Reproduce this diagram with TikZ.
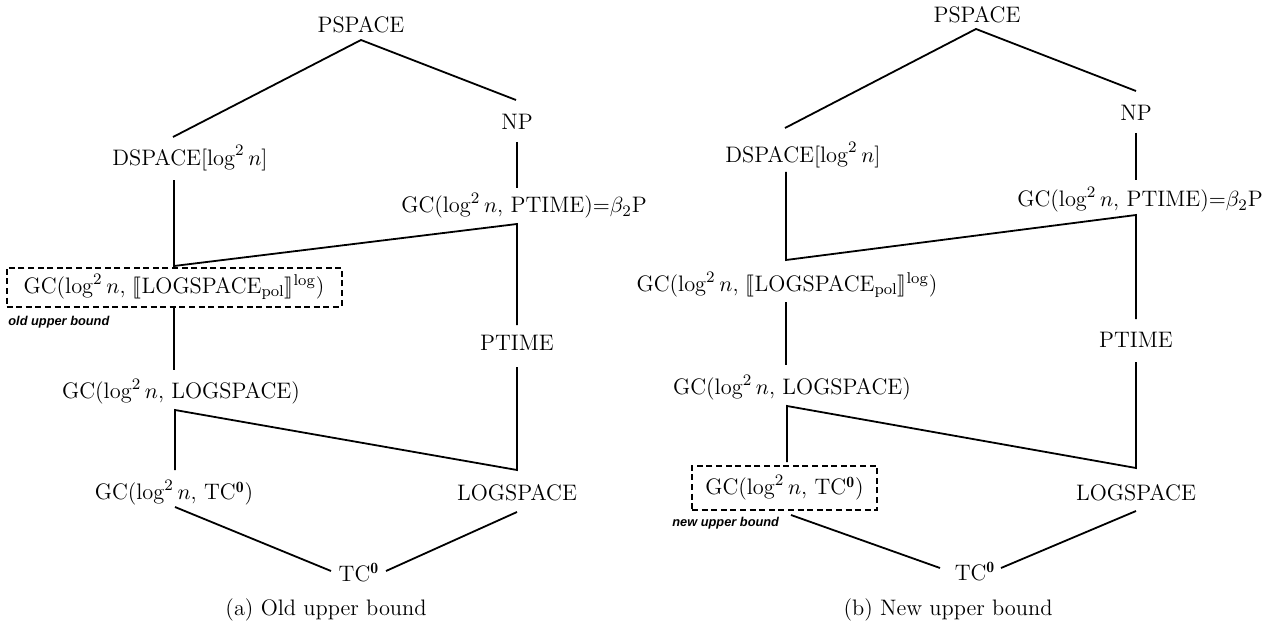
\documentclass[tikz,border=0pt]{standalone}
\usepackage{amsmath}
\usepackage{stmaryrd}
\usepackage{fontspec}
\newfontfamily\lblfont{Liberation Sans}
\begin{document}
\begin{tikzpicture}[x=0.5pt,y=-0.5pt,
  cls/.style={inner sep=0pt, font=\fontsize{11.2}{13}\selectfont},
  lbl/.style={inner sep=0pt, anchor=west, font=\lblfont\bfseries\itshape\fontsize{6.4}{8}\selectfont},
  edge/.style={line width=0.9pt},
  bound/.style={draw, line width=1pt, dash pattern=on 3pt off 1.8pt}]
\useasboundingbox (0,0) rectangle (1280,626);
% ---------- (a) ----------
\node[cls] (aPS) at (361,25) {PSPACE};
\node[cls] (aNP) at (517,122) {NP};
\node[cls] (aDS) at (190,158) {DSPACE$[\log^2 n]$};
\node[cls] (aGP) at (524,206) {GC($\log^2 n$, PTIME)${=}\beta_2$P};
\node[cls, bound, minimum width=167.5pt, minimum height=19.5pt] (aGL) at (174,287) {GC($\log^2 n$, $\llbracket$LOGSPACE$_{\mathrm{pol}}\rrbracket^{\log}$)};
\node[lbl] (aOB) at (8,322) {old upper bound};
\node[cls] (aPT) at (517,343) {PTIME};
\node[cls] (aGS) at (181,392) {GC($\log^2 n$, LOGSPACE)};
\node[cls] (aGT) at (174,493) {GC($\log^2 n$, TC$^{\mathbf{0}}$)};
\node[cls] (aLS) at (517,493) {LOGSPACE};
\node[cls] (aTC) at (359,573) {TC$^{\mathbf{0}}$};
\node[cls] (aCap) at (326,610) {(a) Old upper bound};
\coordinate (aPSb) at (361,40);
\coordinate (aDSt) at (173,137);
\coordinate (aNPt) at (516,100);
\coordinate (aNPb) at (517,142);
\coordinate (aGPt) at (517,188);
\coordinate (aDSb) at (174,180);
\coordinate (aGLt) at (174,266);
\coordinate (aGPb) at (517,224);
\coordinate (aPTt) at (517,325);
\coordinate (aPTb) at (517,367);
\coordinate (aLSt) at (517,470);
\coordinate (aGLb) at (174,306);
\coordinate (aGSt) at (174,370);
\coordinate (aGSb) at (175,410);
\coordinate (aGTt) at (175,470);
\coordinate (aGTb) at (175,507);
\coordinate (aTCl) at (331,571);
\coordinate (aLSb) at (517,512);
\coordinate (aTCr) at (386,571);
\draw[edge] (aDSt) -- (aPSb) -- (aNPt);
\draw[edge] (aNPb) -- (aGPt);
\draw[edge] (aDSb) -- (aGLt) -- (aGPb) -- (aPTt);
\draw[edge] (aPTb) -- (aLSt) -- (aGSb) -- (aGTt);
\draw[edge] (aGLb) -- (aGSt);
\draw[edge] (aGTb) -- (aTCl);
\draw[edge] (aLSb) -- (aTCr);
% ---------- (b) ----------
\node[cls] (bPS) at (977,15) {PSPACE};
\node[cls] (bNP) at (1136,113) {NP};
\node[cls] (bDS) at (803,155) {DSPACE$[\log^2 n]$};
\node[cls] (bGP) at (1140,200) {GC($\log^2 n$, PTIME)${=}\beta_2$P};
\node[cls] (bGL) at (787,285) {GC($\log^2 n$, $\llbracket$LOGSPACE$_{\mathrm{pol}}\rrbracket^{\log}$)};
\node[cls] (bPT) at (1136,340) {PTIME};
\node[cls] (bGS) at (792,388) {GC($\log^2 n$, LOGSPACE)};
\node[cls, bound, minimum width=92.5pt, minimum height=22pt] (bGT) at (784.5,488) {GC($\log^2 n$, TC$^{\mathbf{0}}$)};
\node[lbl] (bNB) at (672,523) {new upper bound};
\node[cls] (bLS) at (1136,493) {LOGSPACE};
\node[cls] (bTC) at (975,572) {TC$^{\mathbf{0}}$};
\node[cls] (bCap) at (948,610) {(b) New upper bound};
\coordinate (bPSb) at (976,29);
\coordinate (bDSt) at (785,128);
\coordinate (bNPt) at (1136,91);
\coordinate (bNPb) at (1136,133);
\coordinate (bGPt) at (1136,180);
\coordinate (bDSb) at (786,172);
\coordinate (bGLt) at (786,260);
\coordinate (bGPb) at (1136,215);
\coordinate (bPTt) at (1136,319);
\coordinate (bPTb) at (1136,362);
\coordinate (bLSt) at (1136,468);
\coordinate (bGLb) at (786,302);
\coordinate (bGSt) at (786,365);
\coordinate (bGSb) at (787,406);
\coordinate (bGTt) at (787,462);
\coordinate (bGTb) at (791,515);
\coordinate (bTCl) at (940,568);
\coordinate (bLSb) at (1136,511);
\coordinate (bTCr) at (1001,568);
\draw[edge] (bDSt) -- (bPSb) -- (bNPt);
\draw[edge] (bNPb) -- (bGPt);
\draw[edge] (bDSb) -- (bGLt) -- (bGPb) -- (bPTt);
\draw[edge] (bPTb) -- (bLSt) -- (bGSb) -- (bGTt);
\draw[edge] (bGLb) -- (bGSt);
\draw[edge] (bGTb) -- (bTCl);
\draw[edge] (bLSb) -- (bTCr);
\end{tikzpicture}
\end{document}
